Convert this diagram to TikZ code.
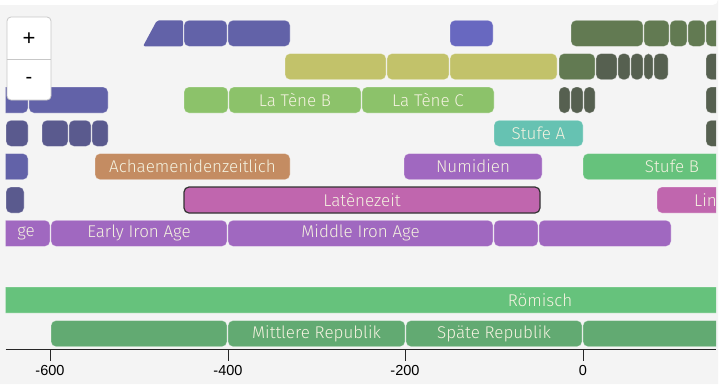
\documentclass[tikz,border=0pt]{standalone}
\usepackage{fontspec}
\setmainfont{Fira Sans}[UprightFont={* Light}]
\newfontfamily\axisfont{Liberation Sans}
\definecolor{panel}{HTML}{F4F4F4}
\definecolor{blueA}{HTML}{6262A8}
\definecolor{blueB}{HTML}{6868C0}
\definecolor{slate}{HTML}{5A5A8E}
\definecolor{dgA}{HTML}{627A52}
\definecolor{dgB}{HTML}{566050}
\definecolor{olive}{HTML}{C2C26A}
\definecolor{lgreen}{HTML}{8CC26A}
\definecolor{teal}{HTML}{66C2B2}
\definecolor{brown}{HTML}{C48C62}
\definecolor{purple}{HTML}{A068C0}
\definecolor{green}{HTML}{66C27C}
\definecolor{magenta}{HTML}{C066AE}
\definecolor{greenB}{HTML}{62AA72}
\definecolor{bartext}{HTML}{F4F2E0}
\tikzset{
  bar/.style={rectangle, rounded corners=5pt, minimum height=26pt, inner sep=0pt,
    text=bartext, font=\fontsize{17}{17}\selectfont,
    draw=white, draw opacity=0.35, line width=0.6pt},
  bartxt/.style={text=bartext, font=\fontsize{17}{17}\selectfont, inner sep=0pt},
  axisline/.style={draw=black!85, line width=1pt},
  ticklabel/.style={font=\axisfont\fontsize{14.5}{14.5}\selectfont, text=black, inner sep=0pt},
}
\newcommand\tlbar[6]{\node[bar, fill=#5, minimum width={#3pt-#2pt}] (#1) at ({(#2+#3)/2},#4) {#6};}
\begin{document}
\begin{tikzpicture}[x=1pt,y=-1pt]
\useasboundingbox (0,0) rectangle (721,384);
\fill[white] (0,0) rectangle (721,384);
\fill[panel] (0,5) -- (713,5) arc[start angle=90, end angle=0, radius=5] -- (718,384) -- (0,384) -- cycle;
\begin{scope}
\clip (5.5,0) rectangle (716,384);
% row 1
\fill[blueA, rounded corners=2pt] (143,46.3) -- (157,20.3) -- (183,20.3) -- (183,46.3) -- cycle;
\tlbar{r1b}{184}{227}{33.3}{blueA}{}
\tlbar{r1c}{228}{290}{33.3}{blueA}{}
\tlbar{r1d}{450}{493}{33.3}{blueB}{}
\tlbar{r1e}{571}{643}{33.3}{dgA}{}
\tlbar{r1f}{644}{669}{33.3}{dgA}{}
\tlbar{r1g}{670}{687}{33.3}{dgA}{}
\tlbar{r1h}{688}{705}{33.3}{dgA}{}
\tlbar{r1i}{706}{740}{33.3}{dgA}{}
% row 2
\tlbar{r2a}{285}{386}{66.6}{olive}{}
\tlbar{r2b}{387}{449}{66.6}{olive}{}
\tlbar{r2c}{450}{557}{66.6}{olive}{}
\tlbar{r2d}{559}{595}{66.6}{dgA}{}
\tlbar{r2e}{596}{617}{66.6}{dgB}{}
\tlbar{r2f}{618}{630}{66.6}{dgB}{}
\tlbar{r2g}{631}{643}{66.6}{dgB}{}
\tlbar{r2h}{644}{653}{66.6}{dgB}{}
\tlbar{r2i}{654}{668}{66.6}{dgB}{}
\tlbar{r2j}{706}{740}{66.6}{dgB}{}
% row 3
\tlbar{r3a}{-20}{28}{100}{blueA}{}
\tlbar{r3b}{29}{108}{100}{blueA}{}
\tlbar{r3c}{184}{228}{100}{lgreen}{}
\tlbar{r3d}{229}{361}{100}{lgreen}{La Tène B}
\tlbar{r3e}{362}{494}{100}{lgreen}{La Tène C}
\tlbar{r3f}{559}{570}{100}{dgB}{}
\tlbar{r3g}{571}{583}{100}{dgB}{}
\tlbar{r3h}{584}{595}{100}{dgB}{}
\tlbar{r3i}{706}{740}{100}{dgB}{}
% row 4
\tlbar{r4a}{6}{28}{133.3}{slate}{}
\tlbar{r4b}{42}{68}{133.3}{slate}{}
\tlbar{r4c}{69}{91}{133.3}{slate}{}
\tlbar{r4d}{92}{108}{133.3}{slate}{}
\tlbar{r4e}{494}{583}{133.3}{teal}{Stufe A}
\tlbar{r4f}{706}{740}{133.3}{dgB}{}
% row 5
\tlbar{r5a}{-20}{28}{166.6}{blueA}{}
\tlbar{r5b}{95}{290}{166.6}{brown}{Achaemenidenzeitlich}
\tlbar{r5c}{404}{542}{166.6}{purple}{Numidien}
\tlbar{r5d}{583}{761}{166.6}{green}{Stufe B}
% row 6
\tlbar{r6a}{6}{24}{200}{slate}{}
\node[bar, fill=magenta, minimum width=356pt, draw=black!80, draw opacity=1, line width=1.2pt] (r6b) at (362,200) {Latènezeit};
\tlbar{r6c}{657}{800}{200}{magenta}{}
\node[bartxt, anchor=west] (r6ct) at (694,200) {Lin};
% row 7
\tlbar{r7a}{-60}{50}{233.3}{purple}{}
\node[bartxt, anchor=east] (r7at) at (35,233.3) {ge};
\tlbar{r7b}{51}{227}{233.3}{purple}{Early Iron Age}
\tlbar{r7c}{228}{493}{233.3}{purple}{Middle Iron Age}
\tlbar{r7d}{494}{538}{233.3}{purple}{}
\tlbar{r7e}{539}{671}{233.3}{purple}{}
% row 9
\tlbar{r9a}{0}{1080}{300}{green}{Römisch}
% row 10
\tlbar{r10a}{51}{227}{333.6}{greenB}{}
\tlbar{r10b}{228}{405}{333.6}{greenB}{Mittlere Republik}
\tlbar{r10c}{406}{582}{333.6}{greenB}{Späte Republik}
\tlbar{r10d}{583}{760}{333.6}{greenB}{}
\end{scope}
% axis
\coordinate (axl) at (5.5,349);
\coordinate (axr) at (716,349);
\draw[axisline] (axl) -- (axr);
\foreach \nm/\xx/\lab in {m600/50/-600, m400/228/-400, m200/405/-200, z0/583/0}{
  \coordinate (tk\nm) at (\xx,349);
  \draw[axisline] (tk\nm) -- ++(0,12);
  \node[ticklabel] (lb\nm) at (\xx,371) {\lab};
}
% zoom control
\node[draw=black!22, fill=white, rounded corners=4pt, minimum width=44pt, minimum height=83pt, line width=0.8pt] (zoombox) at (29,58.5) {};
\draw[black!22, line width=0.8pt] (zoombox.west |- 0,59) -- (zoombox.east |- 0,59);
\node[font=\axisfont\fontsize{22}{22}\selectfont, inner sep=0pt] (zin) at (29,39.5) {+};
\node[font=\axisfont\fontsize{20}{20}\selectfont, inner sep=0pt] (zout) at (29,80) {-};
\end{tikzpicture}
\end{document}
